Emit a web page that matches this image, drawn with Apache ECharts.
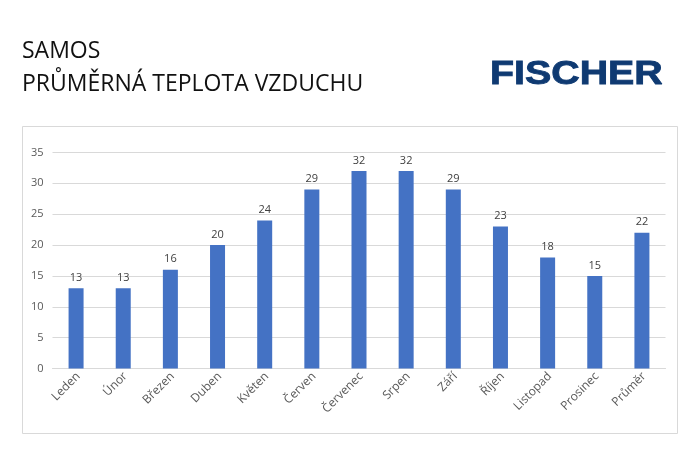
<!DOCTYPE html>
<html>
<head>
<meta charset="utf-8">
<style>
  html, body { margin: 0; padding: 0; background: #fff; }
  #main { width: 700px; height: 450px; }
</style>
<script src="https://cdn.jsdelivr.net/npm/echarts@6/dist/echarts.min.js"></script>
</head>
<body>
<div id="main"></div>
<script>
var months = ['Leden', 'Únor', 'Březen', 'Duben', 'Květen', 'Červen', 'Červenec', 'Srpen', 'Září', 'Říjen', 'Listopad', 'Prosinec', 'Průměr'];
var temps = [13, 13, 16, 20, 24, 29, 32, 32, 29, 23, 18, 15, 22];
var font = '"Open Sans", "Noto Sans", sans-serif';

var chart = echarts.init(document.getElementById('main'));
chart.setOption({
  animation: false,
  backgroundColor: '#fff',
  grid: { left: 52.5, right: 34.5, top: 152.5, bottom: 81.5 },
  xAxis: {
    type: 'category',
    data: months,
    axisTick: { show: false },
    axisLine: { lineStyle: { color: '#d9d9d9', width: 1 } },
    axisLabel: { rotate: 45, interval: 0, color: '#595959', fontFamily: font, fontSize: 12, margin: 8, padding: [0, -3, 0, 0] }
  },
  yAxis: {
    type: 'value',
    min: 0,
    max: 35,
    interval: 5,
    axisLine: { show: false },
    axisTick: { show: false },
    axisLabel: { color: '#595959', fontFamily: font, fontSize: 11, margin: 9 },
    splitLine: { lineStyle: { color: '#d9d9d9', width: 1 } }
  },
  series: [{
    type: 'bar',
    data: temps,
    barWidth: 15,
    itemStyle: { color: '#4472c4' },
    label: { show: true, position: 'top', distance: 5, color: '#404040', fontFamily: font, fontSize: 11 }
  }],
  graphic: [
    { type: 'rect', z: -1, shape: { x: 22.5, y: 126.5, width: 655, height: 307 },
      style: { fill: '#fff', stroke: '#d9d9d9', lineWidth: 1 } },
    { type: 'text', left: 22, top: 40, style: { text: 'SAMOS', font: '23px ' + font, fill: '#111' } },
    { type: 'text', left: 22, top: 73, style: { text: 'PRŮMĚRNÁ TEPLOTA VZDUCHU', font: '23px ' + font, fill: '#111' } },
    { type: 'text', x: 490, y: 58, scaleX: 1.23, scaleY: 1.06, style: { text: 'FISCHER', font: 'bold 32px "Liberation Sans", sans-serif', fill: '#0f3a72', stroke: '#0f3a72', lineWidth: 0.8 } }
  ]
});
</script>
</body>
</html>
